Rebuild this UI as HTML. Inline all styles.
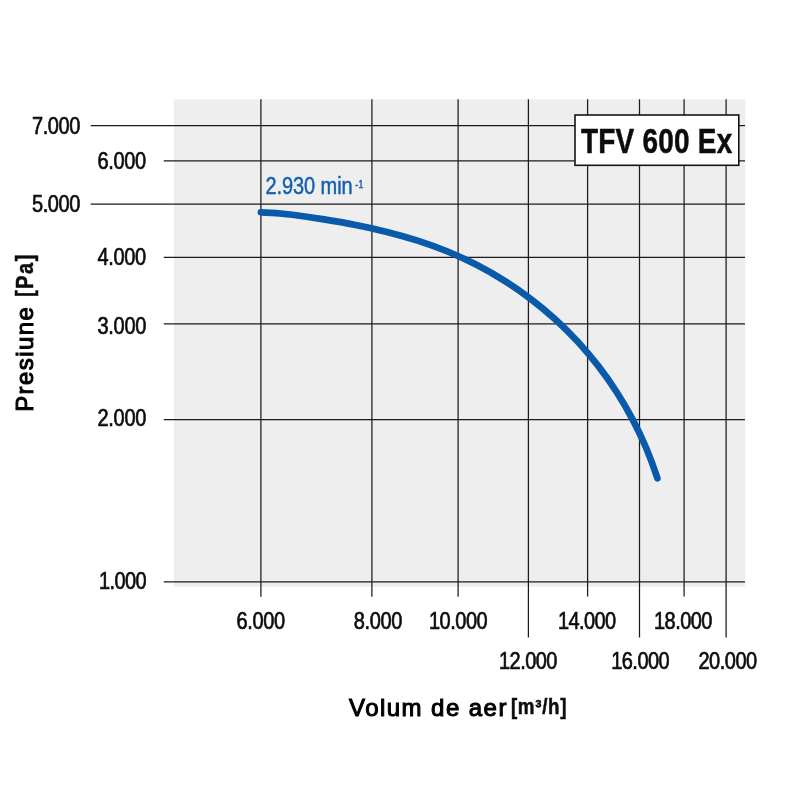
<!DOCTYPE html>
<html lang="ro">
<head>
<meta charset="utf-8">
<title>TFV 600 Ex</title>
<style>
  html,body{margin:0;padding:0;background:#fff;}
  body{width:800px;height:800px;overflow:hidden;}
  svg{display:block;}
  .n,.b,.t{filter:grayscale(1);}
  .bl{filter:saturate(1.01);}
  text{font-family:"Liberation Sans",sans-serif;}
  .n{fill:#0c0c0c;stroke:#0c0c0c;stroke-width:0.7px;}
  .bl{fill:#1560ac;stroke:#1560ac;stroke-width:0.5px;}
  .b{font-weight:bold;fill:#0c0c0c;stroke:#0c0c0c;stroke-width:0.5px;}
  .t{font-size:24px;fill:#000;stroke:#000;stroke-width:1.05px;}
  .g line{stroke:#1b1b1b;stroke-width:1.25;}
</style>
</head>
<body>
<svg width="800" height="800" viewBox="0 0 800 800">
  <rect x="0" y="0" width="800" height="800" fill="#ffffff"/>
  <rect x="173.75" y="99.25" width="571.5" height="487.5" fill="#eeeeef"/>
  <g class="g">
    <line x1="90.75" y1="125.5" x2="745" y2="125.5"/>
    <line x1="163.75" y1="160.75" x2="745" y2="160.75"/>
    <line x1="90.75" y1="204" x2="745" y2="204"/>
    <line x1="163.75" y1="257.25" x2="745" y2="257.25"/>
    <line x1="163.75" y1="323.75" x2="745" y2="323.75"/>
    <line x1="163.75" y1="419.5" x2="745" y2="419.5"/>
    <line x1="163.75" y1="581.85" x2="745" y2="581.85"/>
    <line x1="260.9" y1="99.25" x2="260.9" y2="596.75"/>
    <line x1="371.9" y1="99.25" x2="371.9" y2="596.75"/>
    <line x1="458.1" y1="99.25" x2="458.1" y2="596.75"/>
    <line x1="528.4" y1="99.25" x2="528.4" y2="637.5"/>
    <line x1="587.6" y1="99.25" x2="587.6" y2="596.5"/>
    <line x1="639.5" y1="99.25" x2="639.5" y2="637.5"/>
    <line x1="684.1" y1="99.25" x2="684.1" y2="596.5"/>
    <line x1="726.1" y1="99.25" x2="726.1" y2="637.5"/>
  </g>
  <text class="n" transform="translate(31.9,133.9) scale(0.82,1)" font-size="24.4" textLength="59.15" lengthAdjust="spacing">7.000</text>
  <text class="n" transform="translate(97.4,168.9) scale(0.82,1)" font-size="24.4" textLength="59.51" lengthAdjust="spacing">6.000</text>
  <text class="n" transform="translate(31.9,212.4) scale(0.82,1)" font-size="24.4" textLength="59.15" lengthAdjust="spacing">5.000</text>
  <text class="n" transform="translate(97.4,265.2) scale(0.82,1)" font-size="24.4" textLength="59.51" lengthAdjust="spacing">4.000</text>
  <text class="n" transform="translate(97.4,333.5) scale(0.82,1)" font-size="24.4" textLength="59.76" lengthAdjust="spacing">3.000</text>
  <text class="n" transform="translate(97.4,426.4) scale(0.82,1)" font-size="24.4" textLength="59.76" lengthAdjust="spacing">2.000</text>
  <text class="n" transform="translate(98.9,588.5) scale(0.82,1)" font-size="24.4" textLength="58.17" lengthAdjust="spacing">1.000</text>
  <text class="n" transform="translate(236.4,628.7) scale(0.82,1)" font-size="24.4" textLength="59.51" lengthAdjust="spacing">6.000</text>
  <text class="n" transform="translate(353.8,628.7) scale(0.82,1)" font-size="24.4" textLength="59.15" lengthAdjust="spacing">8.000</text>
  <text class="n" transform="translate(428.9,628.7) scale(0.82,1)" font-size="24.4" textLength="71.71" lengthAdjust="spacing">10.000</text>
  <text class="n" transform="translate(558.0,628.7) scale(0.82,1)" font-size="24.4" textLength="70.85" lengthAdjust="spacing">14.000</text>
  <text class="n" transform="translate(654.0,628.7) scale(0.82,1)" font-size="24.4" textLength="71.34" lengthAdjust="spacing">18.000</text>
  <text class="n" transform="translate(499.0,668.7) scale(0.82,1)" font-size="24.4" textLength="71.34" lengthAdjust="spacing">12.000</text>
  <text class="n" transform="translate(611.2,668.7) scale(0.82,1)" font-size="24.4" textLength="71.34" lengthAdjust="spacing">16.000</text>
  <text class="n" transform="translate(698.4,668.7) scale(0.82,1)" font-size="24.4" textLength="71.71" lengthAdjust="spacing">20.000</text>
  <path fill="none" stroke="#095aaa" stroke-width="6.7" stroke-linecap="round" stroke-linejoin="round"
    d="M260.9,212.3 C270.5,212.5 281.5,213.3 292.4,214.7 C302.9,216.1 313.5,217.7 324.0,219.4 C334.6,221.1 345.1,222.9 355.6,225.0 C366.1,227.0 376.5,229.3 386.9,231.9 C397.3,234.5 407.5,237.4 417.6,240.6 C427.8,243.9 437.8,247.5 447.6,251.5 C457.4,255.6 467.1,260.0 476.5,264.8 C486.0,269.7 495.2,274.9 504.2,280.6 C513.2,286.2 521.9,292.3 530.4,298.7 C538.8,305.1 547.0,311.9 554.9,319.0 C562.8,326.2 570.3,333.7 577.6,341.5 C584.8,349.3 591.7,357.5 598.2,365.9 C604.7,374.3 610.9,383.0 616.6,392.0 C622.4,401.0 627.8,410.2 632.7,419.6 C637.7,429.0 642.2,438.7 646.4,448.5 C650.5,458.3 654.1,468.2 657.4,478.3"/>
  <text class="bl" transform="translate(265.5,194.3) scale(0.82,1)" font-size="24.4" textLength="106.34" lengthAdjust="spacing">2.930 min</text>
  <text class="bl" transform="translate(355.2,187.9) scale(0.82,1)" font-size="10.6" textLength="10.00" lengthAdjust="spacing">-1</text>
  <rect x="575" y="115" width="163.8" height="50.3" fill="#ffffff" stroke="#141414" stroke-width="1.6"/>
  <text class="b" transform="translate(581.0,152.6) scale(0.81,1)" font-size="34.5" textLength="186.67" lengthAdjust="spacing">TFV 600 Ex</text>
  <text class="t" x="349" y="715.5" textLength="157.4" lengthAdjust="spacing">Volum de aer</text>
  <text class="b" transform="translate(510.9,714.3) scale(0.88,1)" font-size="21.3" textLength="63.18" lengthAdjust="spacing">[m³/h]</text>
  <g transform="translate(32.6,411.8) rotate(-90)">
    <text class="t" x="0" y="0" textLength="104.6" lengthAdjust="spacing">Presiune</text>
    <text class="b" transform="translate(114.7,0.4) scale(0.87,1)" font-size="23.2" textLength="48.85" lengthAdjust="spacing">[Pa]</text>
  </g>
</svg>
</body>
</html>
